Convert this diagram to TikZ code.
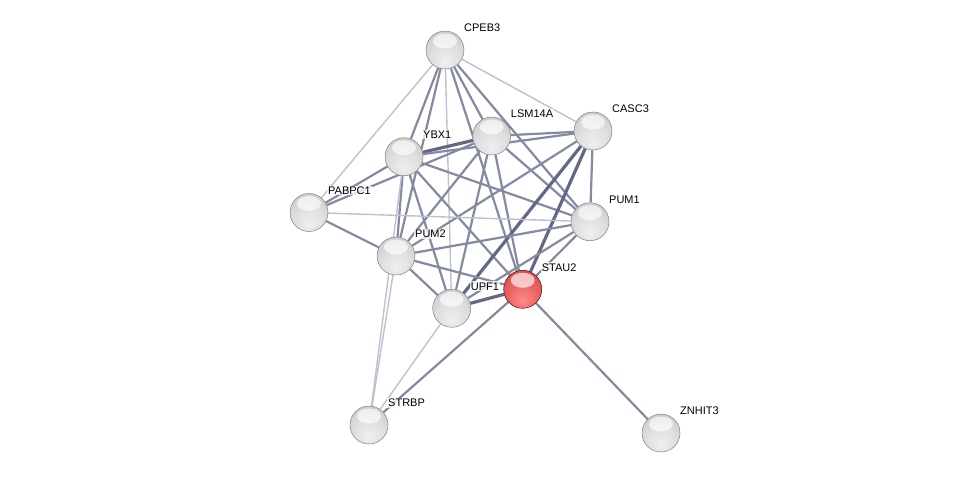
\documentclass[tikz,border=0pt]{standalone}
\usepackage{fontspec}
\setmainfont{Liberation Sans}
\usetikzlibrary{backgrounds,calc}
\pgfdeclareradialshading{sphgray}{\pgfpoint{0bp}{-16bp}}{color(0bp)=(white!94!black); color(20bp)=(white!87!black); color(40bp)=(white!77!black); color(56bp)=(white!64!black); color(66bp)=(white!42!black)}
\pgfdeclareradialshading{sphred}{\pgfpoint{0bp}{-16bp}}{color(0bp)=(red!45!white); color(20bp)=(red!58!white!92!black); color(40bp)=(red!65!white!80!black); color(56bp)=(red!60!black!72!white); color(66bp)=(red!45!black)}
\definecolor{ewc}{HTML}{BDC1D0}
\definecolor{emc}{HTML}{858AA3}
\definecolor{esc}{HTML}{636985}
\tikzset{
  prot/.style={circle, minimum size=38pt, inner sep=0pt, shading=sphgray, draw=black!50, line width=0.5pt,
    path picture={\fill[white,opacity=0.65] ($(path picture bounding box.center)+(0,-9)$) ellipse (12 and 7.5);}},
  protred/.style={prot, shading=sphred, draw=red!35!black},
  lab/.style={anchor=west, inner sep=1pt, fill=white, fill opacity=0.75, text opacity=1, font=\fontsize{11}{13}\selectfont},
  ew/.style={draw=ewc, line width=1.4pt},
  em/.style={draw=emc, line width=2.2pt},
  es/.style={draw=esc, line width=3.2pt},
}
\begin{document}
\begin{tikzpicture}[x=1pt,y=-1pt]
\useasboundingbox (0,0) rectangle (975,479);
\node[prot] (CPEB3) at (445,50) {};
\node[prot] (LSM14A) at (491.7,136) {};
\node[prot] (CASC3) at (593,131) {};
\node[prot] (YBX1) at (404,156.7) {};
\node[prot] (PABPC1) at (309,212.5) {};
\node[prot] (PUM1) at (590,221.7) {};
\node[prot] (PUM2) at (396,256) {};
\node[protred] (STAU2) at (522.7,289.3) {};
\node[prot] (UPF1) at (451.7,308.3) {};
\node[prot] (STRBP) at (369,425) {};
\node[prot] (ZNHIT3) at (661,433) {};
\foreach \n/\t in {CPEB3/CPEB3,LSM14A/LSM14A,CASC3/CASC3,YBX1/YBX1,PABPC1/PABPC1,PUM1/PUM1,PUM2/PUM2,STAU2/STAU2,UPF1/UPF1,STRBP/STRBP,ZNHIT3/ZNHIT3}
  \node[lab] (l\n) at ($(\n.center)+(18,-22)$) {\t};
\begin{pgfonlayer}{background}
\fill[white] (0,0) rectangle (975,479);
\draw[ew] (CPEB3) -- (PABPC1);
\draw[ew] (CPEB3) -- (CASC3);
\draw[em] (CPEB3) -- (YBX1);
\draw[em] (CPEB3) -- (PUM2);
\draw[ew] (CPEB3) -- (UPF1);
\draw[em] (CPEB3) -- (LSM14A);
\draw[em] (CPEB3) -- (STAU2);
\draw[em] (CPEB3) -- (PUM1);
\draw[es] (YBX1) -- (LSM14A);
\draw[em] (YBX1) -- (CASC3);
\draw[em] (YBX1) -- (PABPC1);
\draw[em] (YBX1) -- (PUM2);
\draw[ew] (YBX1) -- (STRBP);
\draw[em] (YBX1) -- (UPF1);
\draw[em] (YBX1) -- (STAU2);
\draw[em] (YBX1) -- (PUM1);
\draw[em] (LSM14A) -- (CASC3);
\draw[em] (LSM14A) -- (PABPC1);
\draw[em] (LSM14A) -- (PUM2);
\draw[em] (LSM14A) -- (UPF1);
\draw[em] (LSM14A) -- (STAU2);
\draw[em] (LSM14A) -- (PUM1);
\draw[em] (CASC3) -- (PUM1);
\draw[es] (CASC3) -- (STAU2);
\draw[es] (CASC3) -- (UPF1);
\draw[em] (CASC3) -- (PUM2);
\draw[ew] (PABPC1) -- (PUM1);
\draw[em] (PABPC1) -- (PUM2);
\draw[em] (PUM2) -- (PUM1);
\draw[em] (PUM2) -- (UPF1);
\draw[em] (PUM2) -- (STAU2);
\draw[ew] (PUM2) -- (STRBP);
\draw[em] (PUM1) -- (UPF1);
\draw[em] (PUM1) -- (STAU2);
\draw[es] (UPF1) -- (STAU2);
\draw[ew] (UPF1) -- (STRBP);
\draw[em] (STAU2) -- (STRBP);
\draw[em] (STAU2) -- (ZNHIT3);
\end{pgfonlayer}
\end{tikzpicture}
\end{document}
